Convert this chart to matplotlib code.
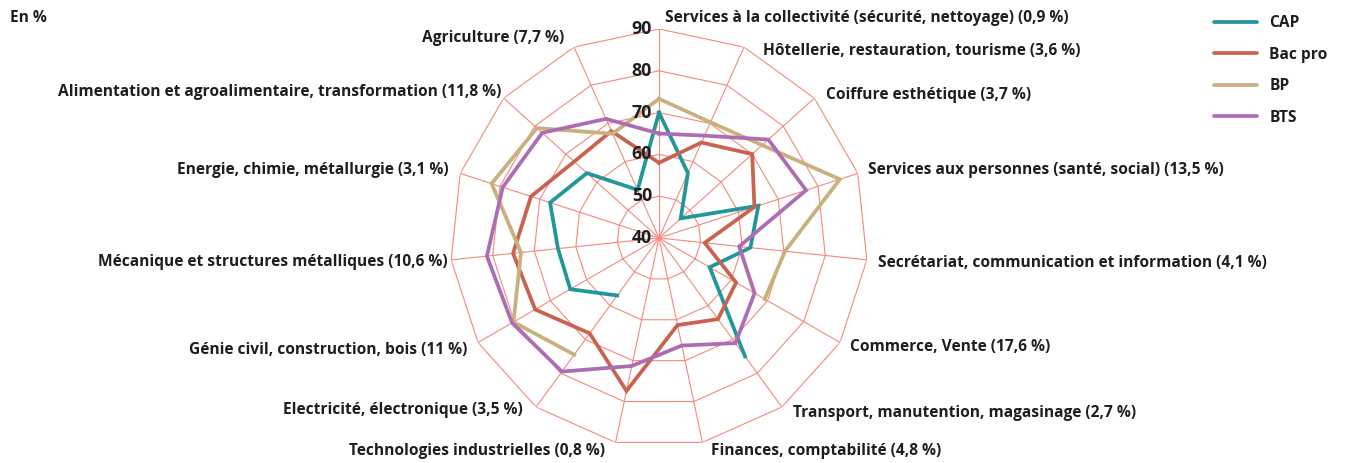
import numpy as np
import matplotlib
matplotlib.use("Agg")
import matplotlib.pyplot as plt
from matplotlib.lines import Line2D

# ---------------- data ----------------
categories = [
    "Services à la collectivité (sécurité, nettoyage) (0,9 %)",
    "Hôtellerie, restauration, tourisme (3,6 %)",
    "Coiffure esthétique (3,7 %)",
    "Services aux personnes (santé, social) (13,5 %)",
    "Secrétariat, communication et information (4,1 %)",
    "Commerce, Vente (17,6 %)",
    "Transport, manutention, magasinage (2,7 %)",
    "Finances, comptabilité (4,8 %)",
    "Technologies industrielles (0,8 %)",
    "Electricité, électronique (3,5 %)",
    "Génie civil, construction, bois (11 %)",
    "Mécanique et structures métalliques (10,6 %)",
    "Energie, chimie, métallurgie (3,1 %)",
    "Alimentation et agroalimentaire, transformation (11,8 %)",
    "Agriculture (7,7 %)",
]
nan = np.nan
cap = [70, 57, 47, 65, 62, 54, 75, nan, nan, 57, 64.5, 64.3, 67.4, 63.2, 52.6]
bac_pro = [58, 65, 70, 64, 51, 61.3, 64, 61.3, 77.4, 68.2, 74.2, 75.1, 72.2, 67.3, 68]
bp = [73.3, 70.3, 73.2, 85.5, 70.3, 69.2, nan, nan, nan, 74.5, 80.2, 73.2, 82.1, 79.3, 67.3]
bts = [65, 66.8, 75.2, 77, 59.3, 66.4, 71.1, 66.3, 71.3, 79.5, 80.6, 81.4, 79.3, 77.6, 71.2]
series_names = ["CAP", "Bac pro", "BP", "BTS"]
radial_ticks = [40, 50, 60, 70, 80, 90]

# ---------------- style ----------------
colors = ["#22979a", "#c9634f", "#c9b07f", "#ad6db5"]
grid_color = "#f4897c"
text_color = "#1e1e1e"
FONT = ["Open Sans", "DejaVu Sans"]
plt.rcParams["font.family"] = FONT
FS = 11.2
WEIGHT = "bold"

W, H = 1345, 463
fig = plt.figure(figsize=(W / 100, H / 100), dpi=100)
cx, cy, R = 659, 238, 209
ax = fig.add_axes([(cx - R) / W, (H - cy - R) / H, 2 * R / W, 2 * R / H], projection="polar")
ax.set_theta_zero_location("N")
ax.set_theta_direction(-1)
ax.set_ylim(radial_ticks[0], radial_ticks[-1])
ax.grid(False)
ax.spines["polar"].set_visible(False)
ax.set_xticks([])
ax.set_yticks([])
ax.patch.set_alpha(0)

n = len(categories)
theta = np.arange(n) * 2 * np.pi / n
theta_closed = np.append(theta, theta[0])

# polygon grid
for r in radial_ticks[1:]:
    ax.plot(theta_closed, [r] * (n + 1), color=grid_color, lw=0.8, zorder=1)
for t in theta:
    ax.plot([t, t], [radial_ticks[0], radial_ticks[-1]], color=grid_color, lw=0.8, zorder=1)

# series
for vals, col, name in zip([cap, bac_pro, bp, bts], colors, series_names):
    v = np.append(vals, vals[0])
    ax.plot(theta_closed, v, color=col, lw=2.7, zorder=3, label=name,
            solid_joinstyle="miter")

# radial tick labels
for r in radial_ticks:
    ax.annotate(str(r), xy=(0, r), xytext=(-7, 0), textcoords="offset pixels",
                ha="right", va="center", fontsize=12.8, fontweight=WEIGHT,
                color=text_color, zorder=5)

# category labels
label_offsets = [(6, 11), (19, -4), (12, 3), (10, 3), (11, -3), (10, -4.5), (11, -6),
                 (8.5, -8.6), (-10.5, -8.6), (-13, -3), (-11, -7.5), (-4, -2),
                 (-12, 3.4), (-2.7, 6.2), (-10, 9)]
for t, lab, (dx, dy) in zip(theta, categories, label_offsets):
    ha = "left" if dx > 0 else "right"
    ax.annotate(lab, xy=(t, radial_ticks[-1]), xytext=(dx, dy), textcoords="offset pixels",
                ha=ha, va="center", fontsize=FS, fontweight=WEIGHT, color=text_color,
                annotation_clip=False)

fig.text(10 / W, 1 - 18 / H, "En %", ha="left", va="center", fontsize=FS,
         fontweight=WEIGHT, color=text_color)

handles = [Line2D([0], [0], color=c, lw=2.7, solid_capstyle="round") for c in colors]
fig.legend(handles, series_names, loc="upper left", bbox_to_anchor=(1214 / W, 1 - 15 / H),
           frameon=False, prop={"weight": WEIGHT, "size": FS},
           handlelength=2.75, handletextpad=0.8, labelspacing=1.0, borderpad=0,
           borderaxespad=0, labelcolor=text_color)

fig.savefig("out.png", dpi=100)
